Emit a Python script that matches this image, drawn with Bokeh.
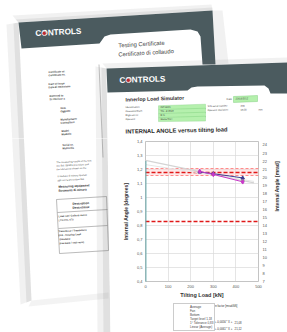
from bokeh.plotting import figure
from bokeh.layouts import column, row
from bokeh.models import (Range1d, LinearAxis, FixedTicker, CustomJSTickFormatter,
                          Legend, LegendItem)
from bokeh.core.properties import value
from bokeh.embed import file_html
from bokeh.resources import INLINE

# ---------------- data ----------------
load_ticks = [0, 100, 200, 300, 400, 500]
deg_ticks = [0.4, 0.5, 0.6, 0.7, 0.8, 0.9, 1.0, 1.1, 1.2, 1.3, 1.4]
mrad_ticks = [7, 8, 9, 10, 11, 12, 13, 14, 15, 16, 17, 18, 19, 20, 21, 22, 23, 24]

avg_zero_load = [0, 0]
avg_zero_angle = [0.0, 1.26]
avg_load = [240, 300, 430]
avg_angle = [1.183, 1.167, 1.126]
fan_load = [240, 300, 430]
fan_angle = [1.186, 1.165, 1.112]
bot_load = [240, 300, 430]
bot_angle = [1.182, 1.170, 1.140]
trend_load = [0, 480]
trend_angle = [1.265, 1.105]
trend2_load = [0, 480]
trend2_angle = [1.235, 1.115]

target_level = [1.18]
tolerance_band = [1.155, 1.21]
threshold_level = [0.83]

legend_labels = ["Average", "Fan", "Bottom", "Target level 1,18",
                 "1° Tolerance 0,83", "Linear (Average)"]
table_names = ["Average line", "(Fan)"]
table_slopes = ["Y = -0,0056", "Y = -0,0061"]
table_intercepts = ["21,08", "21,12"]

FONT = "Liberation Sans"
BAND = "#4b5b5f"
GREEN = "#b5f0ad"
BOUNDS = {}


# ---------------- helpers for the photographed sheets ----------------
def deco_fig(w, h, x0, x1, y0, y1):
    f = figure(width=w, height=h, x_range=Range1d(x0, x1), y_range=Range1d(y1, y0),
               x_axis_type=None, y_axis_type=None, output_backend="svg",
               toolbar_location=None, min_border=0, outline_line_color=None,
               background_fill_color="white", border_fill_color="white")
    f.grid.visible = False
    BOUNDS[f.id] = (x0, x1, y0, y1)
    return f


def shape(f, pts, color, alpha=1.0, line=None, lw=0.5):
    f.patch([a for a, _ in pts], [b for _, b in pts], fill_color=color, fill_alpha=alpha,
            line_color=line, line_width=lw)


def seg(f, pts, color="#888888", lw=0.5):
    f.line([a for a, _ in pts], [b for _, b in pts], line_color=color, line_width=lw)


def txt(f, x, y, s, size=3.0, color="#3a3a3a", bold=False, align="left", angle=0.0,
        font=FONT):
    x0, x1, y0, y1 = BOUNDS[f.id]
    w = len(s) * size * 0.58
    left = x - (w if align == "right" else w / 2 if align == "center" else 0)
    if left < x0 or left + w > x1 or y - size * 0.7 < y0 or y + size * 0.7 > y1:
        return
    f.text(x=[x], y=[y], text=[s], text_font=value(font), text_font_size=value(f"{size}px"),
           text_color=color, text_font_style="bold" if bold else "normal",
           text_align=align, text_baseline="middle", angle=angle)


def logo(f, x, y, angle):
    txt(f, x, y, "CONTROLS", 8.2, "white", True, angle=angle)
    x0, x1, y0, y1 = BOUNDS[f.id]
    if y0 < y < y1:
        f.scatter([x + 8.8], [y - 0.2], marker="circle", size=4.2, fill_color="#c0282e",
                  line_color="#d8d8d8", line_width=0.8)


def decor(f):
    # back sheet shadows
    shape(f, [(18, 22), (212, 10), (211, 4), (12, 15)], "#777777", 0.10)
    shape(f, [(18, 22), (212, 10), (212, 7), (15, 19)], "#777777", 0.12)
    shape(f, [(18, 22), (31, 300), (20, 304), (6, 24)], "#777777", 0.10)
    shape(f, [(18, 22), (31, 300), (26, 302), (13, 23)], "#777777", 0.14)
    shape(f, [(31, 300), (108, 292), (108, 298), (28, 306)], "#888888", 0.10)
    shape(f, [(212, 10), (215, 64), (228, 63), (222, 10)], "#777777", 0.10)

    # back sheet header band with white tab
    shape(f, [(18, 22), (212, 10), (215, 64), (202, 64), (200, 36), (197, 31), (190, 29),
              (110, 34), (104, 36), (99, 43), (21, 48)], BAND)
    logo(f, 35, 33, 0.05)
    txt(f, 118, 45, "Testing Certificate", 5.8, "#3c3c3c", angle=0.06)
    txt(f, 118, 54, "Certificato di collaudo", 5.8, "#3c3c3c", angle=0.06)

    # back sheet body
    rows = [(48, 72, "Certificate nr.", "Certificato nr."),
            (48, 84, "Date of issue", "Data di emissione"),
            (49, 96, "Referred to", "Si riferisce a"), (60, 108, "Item", "Oggetto"),
            (60, 119.5, "Manufacturer", "Costruttore"), (61, 131, "Model", "Modello"),
            (62, 145, "Serial nr.", "Matricola")]
    for x, y, a, b in rows:
        txt(f, x, y, a, 2.6, "#333333", True, angle=0.05)
        txt(f, x, y + 3.2, b, 2.6, "#333333", True, angle=0.05)
    seg(f, [(98.5, 64), (102.5, 157)], "#999999", 0.6)
    txt(f, 56, 162, "The measuring results of the test", 2.4, "#444444", angle=0.05)
    txt(f, 56, 165.5, "the Std. 08/201 procedure and", 2.4, "#444444", angle=0.05)
    txt(f, 56, 169, "the tolerances shown on the", 2.4, "#444444", angle=0.05)
    txt(f, 57, 176, "Il risultato di misura riportati", 2.4, "#444444", angle=0.05)
    txt(f, 57, 180, "agli con la procedura Std.", 2.4, "#444444", angle=0.05)
    txt(f, 58, 186, "Measuring equipment", 3, "#222222", True, angle=0.05)
    txt(f, 58, 190, "Strumenti di misura", 3, "#222222", True, angle=0.05)
    shape(f, [(56, 199), (106, 196), (108, 250), (59, 253)], "white", 1.0, "#777777", 0.5)
    seg(f, [(57, 212), (107, 209)], "#777777", 0.5)
    seg(f, [(58, 228), (107, 225)], "#777777", 0.5)
    txt(f, 72, 203, "Description", 3, "#222222", True, angle=0.05)
    txt(f, 72, 207, "Descrizione", 3, "#222222", True, angle=0.05)
    txt(f, 58, 216, "Load cell / Cella di carico", 2.4, "#333333", True, angle=0.05)
    txt(f, 58, 220, "LCM-801-ST8", 2.4, "#333333", angle=0.05)
    txt(f, 58, 231, "Transducer / Trasduttore", 2.4, "#333333", True, angle=0.05)
    txt(f, 58, 235, "SLS - Innerlop Load", 2.4, "#333333", True, angle=0.05)
    txt(f, 59, 239, "Simulator", 2.4, "#333333", True, angle=0.05)
    txt(f, 59, 243, "(see back / vedi retro)", 2.4, "#333333", True, angle=0.05)

    # front sheet: shadows, white body, header band
    shape(f, [(106, 68), (110, 332), (97, 332), (95, 66)], "#777777", 0.10)
    shape(f, [(106, 68), (110, 332), (103, 332), (101, 67)], "#777777", 0.14)
    shape(f, [(106, 68), (287, 62), (287, 57), (102, 63)], "#777777", 0.10)
    shape(f, [(106, 68), (287, 62), (287, 332), (110, 332)], "white")
    shape(f, [(106, 68), (287, 62), (287, 93), (270, 93), (268, 88), (264, 85), (197, 86),
              (191, 87), (187, 90), (107, 92)], BAND)
    logo(f, 119, 80, 0.033)
    txt(f, 125, 99, "Innerlop Load Simulator", 5.1, "#333333", True, angle=0.033)
    txt(f, 226, 99, "Date", 2.6, "#333333", angle=0.033)
    shape(f, [(233, 96), (257, 95), (257, 101), (233, 102)], GREEN, 1.0, "#6cc46c", 0.4)
    txt(f, 235, 98.5, "23/03/2012", 2.5, "#333333", angle=0.033)
    front_rows = [(107, "Identification", "INT.0001", "S/N serial number", "339", ""),
                  (111, "Customer/Date", "TN - 8.0523", "Operator deviation", "15,00", "mm"),
                  (115, "Right set to", "R.S.", "", "", ""),
                  (119, "Operator", "Giulia Neri", "", "", "")]
    for y, lab, val, lab2, v2, unit in front_rows:
        txt(f, 125, y, lab, 2.5, "#333333", angle=0.033)
        shape(f, [(158, y - 1.8), (205, y - 3.3), (205, y + 1.6), (158, y + 2.1)], GREEN,
              1.0, "#6cc46c", 0.3)
        txt(f, 160, y, val, 2.5, "#333333", angle=0.033)
        if lab2:
            txt(f, 207, y - 1, lab2, 2.5, "#333333", angle=0.033)
            txt(f, 240, y - 1, v2, 2.5, "#333333", angle=0.033)
            txt(f, 258, y - 1.5, unit, 2.5, "#333333", angle=0.033)
    txt(f, 125, 131, "INTERNAL ANGLE versus tilting load", 5.8, "#2a2a2a", True, angle=0.02)


top = deco_fig(287, 138, 0, 287, 0, 138)
decor(top)
left = deco_fig(112, 194, 0, 112, 138, 332)
decor(left)
bottom = deco_fig(175, 32, 112, 287, 300, 332)
decor(bottom)

# ---------------- the chart ----------------
p = figure(width=175, height=162, x_range=Range1d(0, 500), y_range=Range1d(0.4, 1.4),
           output_backend="svg", toolbar_location=None,
           min_border_left=33, min_border_right=29, min_border_top=3, min_border_bottom=16,
           background_fill_color="white", border_fill_color="white",
           outline_line_color="#b5b5b5", outline_line_width=0.8)
p.extra_y_ranges = {"mrad": Range1d(0.4 * 3.14159265 / 180 * 1000, 1.4 * 3.14159265 / 180 * 1000)}

p.xaxis.ticker = FixedTicker(ticks=load_ticks)
p.xaxis.axis_label = "Tilting Load [kN]"
p.yaxis.ticker = FixedTicker(ticks=deg_ticks)
p.yaxis.formatter = CustomJSTickFormatter(
    code="const s = (Math.round(tick*10)/10).toString(); return s.replace('.', ',');")
p.yaxis.axis_label = "Internal Angle [degrees]"
rax = LinearAxis(y_range_name="mrad", ticker=FixedTicker(ticks=mrad_ticks),
                 axis_label="Internal Angle [mrad]")
p.add_layout(rax, "right")

for ax in [p.xaxis[0], p.yaxis[0], rax]:
    ax.axis_line_color = None
    ax.major_tick_line_color = None
    ax.minor_tick_line_color = None
    ax.major_tick_out = 0
    ax.major_tick_in = 0
    ax.minor_tick_out = 0
    ax.major_label_text_font_size = "4px"
    ax.major_label_text_color = "#555555"
    ax.major_label_text_font = FONT
    ax.axis_label_text_font = FONT
    ax.axis_label_text_font_style = "bold"
    ax.axis_label_text_color = "#333333"
    ax.major_label_standoff = 3
p.xaxis.axis_label_text_font_size = "5.5px"
p.xaxis.axis_label_standoff = 1
p.yaxis.axis_label_text_font_size = "5px"
p.yaxis.axis_label_standoff = 5
rax.axis_label_text_font_size = "5px"
rax.major_label_standoff = 4
rax.axis_label_standoff = 7
rax.axis_label_orientation = 1.5707963

p.xgrid.ticker = FixedTicker(ticks=load_ticks)
p.ygrid.ticker = FixedTicker(ticks=deg_ticks)
p.grid.grid_line_color = "#dadada"
p.grid.grid_line_width = 0.7

p.hstrip(y0=[tolerance_band[0]], y1=[tolerance_band[1]], fill_color="#ffcccc",
         fill_alpha=0.45, line_color=None)
p.hspan(y=tolerance_band, line_color="#ff7070", line_dash="3 2", line_width=0.8)
p.hspan(y=target_level, line_color="#e01818", line_dash="4 2", line_width=1.3)
p.hspan(y=threshold_level, line_color="#e01818", line_dash="4 2", line_width=1.3)
p.line(trend_load, trend_angle, line_color="#d4d4d4", line_width=1.3)
p.line(trend2_load, trend2_angle, line_color="#e6e6e6", line_width=1.0)
p.line(avg_zero_load, avg_zero_angle, line_color="#5aa5a8", line_width=1.8)
p.scatter(avg_load, avg_angle, marker="triangle", size=3.5,
          fill_color="#a8d8a0", line_color="#78b878", line_width=0.5)
p.line(bot_load, bot_angle, line_color="#3b3b8f", line_width=1.0)
p.scatter(bot_load, bot_angle, marker="triangle", size=3.5, fill_color="#3b3b8f",
          line_color="#3b3b8f")
p.line(fan_load, fan_angle, line_color="#c838c8", line_width=1.0)
p.scatter(fan_load, fan_angle, marker="diamond", size=4.5, fill_color="#c838c8",
          line_color="#c838c8")

# ---------------- legend and deflection table (below the chart) ----------------
e = dict(x=[], y=[])
l_avg = [bottom.line(**e, line_color="#5aa5a8", line_width=1.2),
         bottom.scatter(**e, marker="triangle", size=3, fill_color="#a8d8a0", line_color="#78b878")]
l_fan = [bottom.line(**e, line_color="#c838c8", line_width=1.0),
         bottom.scatter(**e, marker="diamond", size=3.5, color="#c838c8")]
l_bot = [bottom.line(**e, line_color="#3b3b8f", line_width=1.0),
         bottom.scatter(**e, marker="triangle", size=3, color="#3b3b8f")]
l_tgt = [bottom.line(**e, line_color="#ff8080", line_dash="3 2", line_width=1.0)]
l_thr = [bottom.line(**e, line_color="#e01818", line_dash="3 2", line_width=1.0)]
l_lin = [bottom.line(**e, line_color="#bbbbbb", line_width=1.0)]
legend = Legend(items=[LegendItem(label=lab, renderers=r) for lab, r in
                       zip(legend_labels, [l_avg, l_fan, l_bot, l_tgt, l_thr, l_lin])],
                location=(28, 1), orientation="vertical",
                label_text_font_size="3px", label_text_font=FONT, label_text_color="#444444",
                label_height=4, glyph_height=4, glyph_width=12, label_standoff=3, spacing=0,
                padding=1, margin=0, border_line_color="#999999", border_line_width=0.5,
                background_fill_color="white", background_fill_alpha=1.0)
bottom.add_layout(legend, "center")

txt(bottom, 229, 305, "deflection factor [mrad/kN]", 2.8, "#333333", align="center")
for i, (n, s, c) in enumerate(zip(table_names, table_slopes, table_intercepts)):
    y = 321.5 + 6.5 * i
    txt(bottom, 202, y, n, 2.8, "#333333", align="right")
    txt(bottom, 214, y, s, 2.8, "#333333")
    txt(bottom, 237, y, "* X +", 2.8, "#333333")
    txt(bottom, 250, y, c, 2.8, "#333333")

layout = column(top, row(left, column(p, bottom)))
open("out.html", "w").write(file_html(layout, INLINE))
